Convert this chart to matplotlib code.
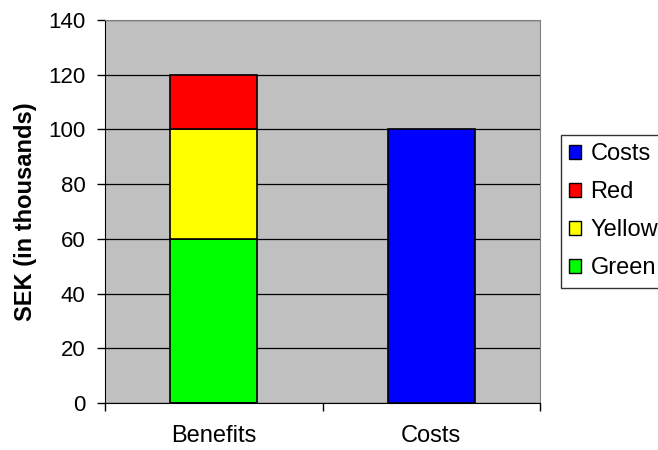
import matplotlib
matplotlib.use("Agg")
import matplotlib.pyplot as plt
from matplotlib.patches import Patch

plt.rcParams['font.family'] = ['Liberation Sans', 'DejaVu Sans']

categories = ["Benefits", "Costs"]
green = [60, 0]
yellow = [40, 0]
red = [20, 0]
costs = [0, 100]
yticks = [0, 20, 40, 60, 80, 100, 120, 140]
ylabel = "SEK (in thousands)"

fs = 17
fig = plt.figure(figsize=(6.58, 4.5), dpi=100)
ax = fig.add_axes([105/658, 1-403/450, (540-105)/658, (403-20)/450])
ax.set_facecolor('#C0C0C0')

x = [0, 1]
w = 0.4
kw = dict(width=w, edgecolor='black', linewidth=1.2, zorder=3)
ax.bar(x, green, color='#00FF00', **kw)
ax.bar(x, yellow, bottom=green, color='#FFFF00', **kw)
b2 = [g + y for g, y in zip(green, yellow)]
ax.bar(x, red, bottom=b2, color='#FF0000', **kw)
ax.bar(x, costs, color='#0000FF', **kw)

ax.set_xlim(-0.5, 1.5)
ax.set_ylim(0, 140)
ax.set_yticks(yticks)
ax.yaxis.grid(True, color='black', linewidth=0.9, zorder=1)
ax.set_axisbelow(True)
ax.set_xticks(x)
ax.set_xticklabels(categories, fontsize=fs)
ax.tick_params(axis='x', length=0, pad=16)
ax.set_xticks([-0.5, 0.5, 1.5], minor=True)
ax.tick_params(axis='x', which='minor', length=6, direction='out', width=1)
ax.tick_params(axis='y', length=6, direction='out', width=1, labelsize=16, pad=8)
for s in ['top', 'right']:
    ax.spines[s].set_color('#808080')
for s in ['left', 'bottom']:
    ax.spines[s].set_color('black')
ax.set_ylabel(ylabel, fontsize=fs, fontweight='bold', labelpad=8)

handles = [Patch(facecolor='#0000FF', edgecolor='black'),
           Patch(facecolor='#FF0000', edgecolor='black'),
           Patch(facecolor='#FFFF00', edgecolor='black'),
           Patch(facecolor='#00FF00', edgecolor='black')]
labels = ["Costs", "Red", "Yellow", "Green"]
leg = fig.legend(handles, labels, loc='upper left', bbox_to_anchor=(561/658, 1-135/450),
                 fontsize=fs, frameon=True, fancybox=False, edgecolor='black',
                 labelspacing=0.68, handlelength=0.5, handleheight=0.5,
                 handletextpad=0.4, borderpad=0.35, borderaxespad=0)
leg.get_frame().set_linewidth(1)

fig.savefig("out.png", dpi=100)
